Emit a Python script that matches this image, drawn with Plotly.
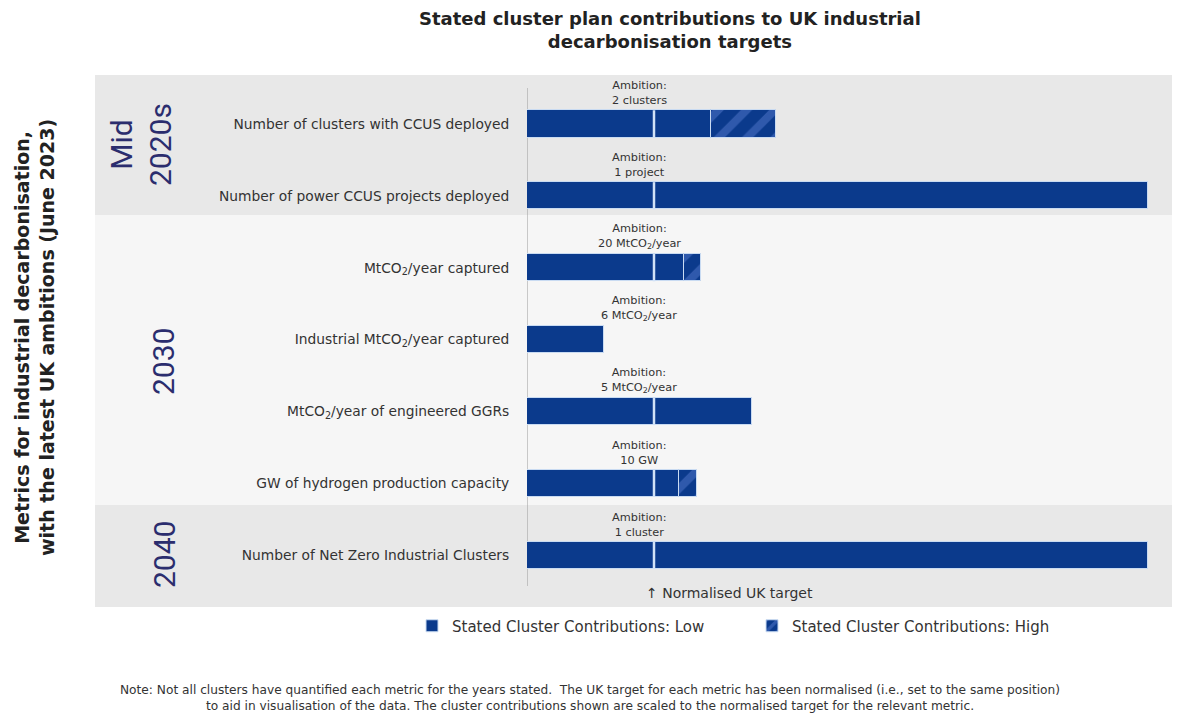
import plotly.graph_objects as go

# ---------------- data ----------------
metrics = [
    "Number of clusters with CCUS deployed",
    "Number of power CCUS projects deployed",
    "MtCO<sub>2</sub>/year captured",
    "Industrial MtCO<sub>2</sub>/year captured",
    "MtCO<sub>2</sub>/year of engineered GGRs",
    "GW of hydrogen production capacity",
    "Number of Net Zero Industrial Clusters",
]
ambitions = [
    "Ambition:<br>2 clusters",
    "Ambition:<br>1 project",
    "Ambition:<br>20 MtCO<sub>2</sub>/year",
    "Ambition:<br>6 MtCO<sub>2</sub>/year",
    "Ambition:<br>5 MtCO<sub>2</sub>/year",
    "Ambition:<br>10 GW",
    "Ambition:<br>1 cluster",
]
low_values = [1.45, 4.89, 1.24, 0.61, 1.77, 1.20, 4.89]
high_values = [1.96, 4.89, 1.37, 0.61, 1.77, 1.34, 4.89]
target = 1.0
period_labels = ["Mid<br>2020s", "2030", "2040"]

# ---------------- styling ----------------
BLUE = "#0b3a8c"
FONT = "DejaVu Sans"
rows = list(range(len(metrics)))
bar_w = 0.38

fig = go.Figure()
fig.add_trace(go.Bar(
    y=rows, x=low_values, orientation="h", width=bar_w,
    name="Stated Cluster Contributions: Low",
    marker=dict(color=BLUE, line=dict(color="#c9dbf2", width=1)),
    hoverinfo="skip",
))
fig.add_trace(go.Bar(
    y=rows, x=[h - l for h, l in zip(high_values, low_values)], base=low_values,
    orientation="h", width=bar_w,
    name="Stated Cluster Contributions: High",
    marker=dict(color=BLUE, line=dict(color="#c9dbf2", width=1),
                pattern=dict(shape="/", fgcolor="#5478cc", bgcolor=BLUE,
                             size=20, solidity=0.4)),
    hoverinfo="skip",
))

PLOT_L, PLOT_R, PLOT_T, PLOT_B = 527, 1168, 75, 607
W, H = PLOT_R - PLOT_L, PLOT_B - PLOT_T
def px_x(px):
    return (px - PLOT_L) / W
def px_y(py):
    return (PLOT_B - py) / H

shapes = []
bands = [(75, 215, "#e8e8e8"), (215, 505, "#f6f6f6"), (505, 607, "#e8e8e8")]
for top, bot, col in bands:
    shapes.append(dict(type="rect", xref="paper", yref="paper",
                       x0=px_x(95), x1=px_x(1172), y0=px_y(bot), y1=px_y(top),
                       fillcolor=col, line_width=0, layer="below"))
shapes.append(dict(type="line", xref="x", yref="paper", x0=0, x1=0,
                   y0=px_y(586), y1=px_y(88), line=dict(color="#9a9a9a", width=1),
                   layer="below"))
for r, h in zip(rows, high_values):
    if h >= target:
        shapes.append(dict(type="line", xref="x", yref="y", x0=target, x1=target,
                           y0=r - bar_w / 2, y1=r + bar_w / 2,
                           line=dict(color="#d2e2f7", width=2.5), layer="above"))

annotations = []
for r, a in zip(rows, ambitions):
    annotations.append(dict(x=target, y=r - bar_w / 2, xref="x", yref="y", text=a,
                            showarrow=False, xanchor="center", yanchor="bottom",
                            yshift=1, xshift=-15,
                            font=dict(family=FONT, size=11.3, color="#333333"),
                            align="center"))
annotations.append(dict(x=target, y=6.53, xref="x", yref="y",
                        text="\u2191 Normalised UK target", showarrow=False,
                        xanchor="left", yanchor="middle", xshift=-10,
                        font=dict(family=FONT, size=14, color="#333333")))

def add_px(text, xp, yp, font, angle=0):
    annotations.append(dict(x=px_x(xp), y=px_y(yp), xref="paper", yref="paper",
                            text=text, showarrow=False, textangle=angle,
                            xanchor="center", yanchor="middle", align="center",
                            font=font))

for txt, (xp, yp) in zip(period_labels, [(141, 145), (163, 361), (164, 555)]):
    add_px(txt, xp, yp, dict(family="Roboto", size=30, color="#2b2d6e"), -90)
add_px("<b>Metrics for industrial decarbonisation,<br>with the latest UK ambitions (June 2023)</b>",
       34, 338, dict(family=FONT, size=19, color="#222222"), -90)
add_px("Note: Not all clusters have quantified each metric for the years stated.  The UK target for each metric has been normalised (i.e., set to the same position)<br>to aid in visualisation of the data. The cluster contributions shown are scaled to the normalised target for the relevant metric.",
       590, 698, dict(family=FONT, size=12.2, color="#333333"))
add_px("<b>Stated cluster plan contributions to UK industrial<br>decarbonisation targets</b>",
       670, 30, dict(family=FONT, size=18, color="#222222"))

fig.update_layout(
    width=1181, height=724,
    margin=dict(l=PLOT_L, r=1181 - PLOT_R, t=PLOT_T, b=724 - PLOT_B),
    paper_bgcolor="white", plot_bgcolor="rgba(0,0,0,0)",
    barmode="overlay", bargap=0,
    font=dict(family=FONT, color="#333333"),
    shapes=shapes, annotations=annotations,
    showlegend=True,
    legend=dict(orientation="h", x=px_x(412), y=px_y(626), xanchor="left", yanchor="middle",
                entrywidth=295, entrywidthmode="pixels",
                font=dict(family=FONT, size=15, color="#333333"),
                bgcolor="rgba(0,0,0,0)"),
    xaxis=dict(range=[0, W / 127], showgrid=False, zeroline=False, showticklabels=False,
               showline=False, fixedrange=True),
    yaxis=dict(tickmode="array", tickvals=rows, ticktext=metrics,
               range=[6.72, -0.68], showgrid=False, zeroline=False, showline=False,
               ticks="outside", ticklen=14, tickcolor="rgba(0,0,0,0)",
               tickfont=dict(family=FONT, size=13.8, color="#333333")),
)

fig.write_html("out.html", config={"displayModeBar": False},
               post_script="document.body.style.margin='0px';document.body.style.overflow='hidden';")
